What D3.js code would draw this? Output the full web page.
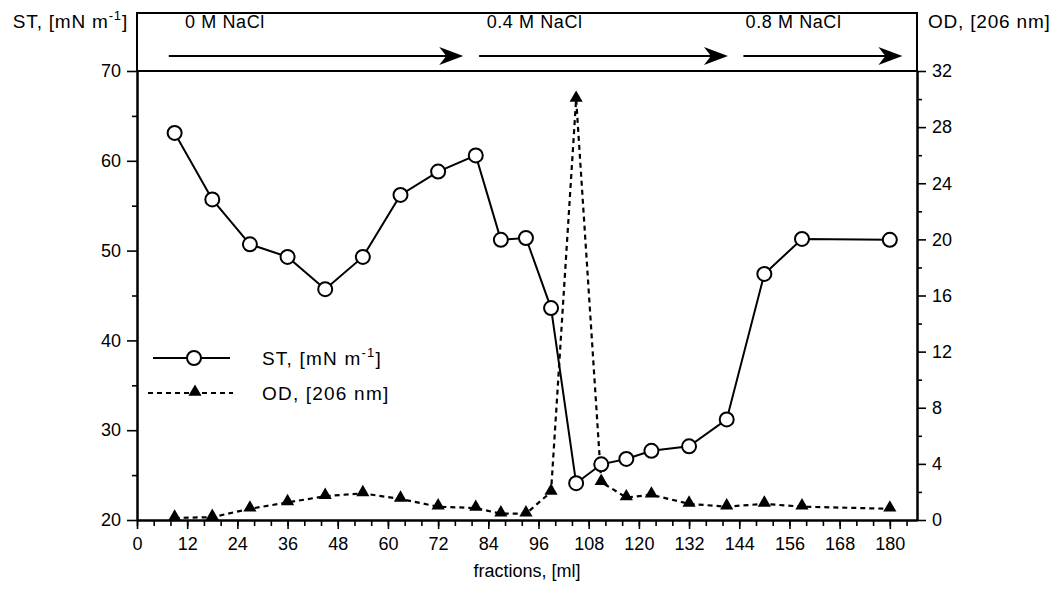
<!DOCTYPE html>
<html><head><meta charset="utf-8">
<script src="https://cdn.jsdelivr.net/npm/d3@7"></script>
<style>
body{margin:0;background:#fff;}
svg text{font-family:"Liberation Sans",Arial,Helvetica,sans-serif;fill:#000;}
</style></head>
<body><svg id="c" width="1055" height="598"></svg>
<script>
const fractions = [9,18,27,36,45,54,63,72,81,87,93,99,105,111,117,123,132,141,150,159,180];
const stValues  = [63.1,55.7,50.7,49.3,45.7,49.3,56.2,58.8,60.6,51.2,51.4,43.6,24.1,26.2,26.8,27.7,28.2,31.2,47.4,51.3,51.2];
const odValues  = [0.15,0.2,0.8,1.25,1.7,1.9,1.5,0.95,0.85,0.45,0.45,2.0,30,2.7,1.6,1.8,1.15,0.95,1.15,0.95,0.8];
const xTickLabels = [0,12,24,36,48,60,72,84,96,108,120,132,144,156,168,180];
const stTickLabels = [20,30,40,50,60,70];
const odTickLabels = [0,4,8,12,16,20,24,28,32];
const saltLabels = ["0 M NaCl","0.4 M NaCl","0.8 M NaCl"];
const saltStart = [7.6, 81.8, 145];
const saltEnd   = [78, 141.3, 183];
const saltLabelX = [11.5, 83.6, 145.5];

const svg = d3.select("#c");
const L=137, R=917, T=71, B=520, HT=13;
const x = d3.scaleLinear().domain([0,186.5]).range([L,R]);
const yL = d3.scaleLinear().domain([20,70]).range([B,T]);
const yR = d3.scaleLinear().domain([0,32]).range([B,T]);
const FS = 18;

// header box
svg.append("rect").attr("x",L).attr("y",HT).attr("width",R-L).attr("height",T-HT)
  .attr("fill","none").attr("stroke","#000").attr("stroke-width",2);
const ay = 56;
saltLabels.forEach((s,i)=>{
  const x0=x(saltStart[i]), x1=x(saltEnd[i]);
  svg.append("line").attr("x1",x0).attr("x2",x1-14).attr("y1",ay).attr("y2",ay)
    .attr("stroke","#000").attr("stroke-width",2);
  svg.append("path").attr("d",`M${x1},${ay} L${x1-24},${ay-9} L${x1-17},${ay} L${x1-24},${ay+9} Z`).attr("fill","#000");
  svg.append("text").attr("x",x(saltLabelX[i])).attr("y",28).attr("font-size",FS).attr("letter-spacing",0.6).text(s);
});

// axes
function styleAxis(g){
  g.selectAll("path.domain").attr("stroke","#000").attr("stroke-width",2);
  g.selectAll("line").attr("stroke","#000").attr("stroke-width",1.6);
  g.selectAll("text").attr("font-size",FS).attr("font-family","Liberation Sans, Arial, sans-serif");
}
// x minor
svg.append("g").attr("transform",`translate(0,${B})`)
  .call(d3.axisBottom(x).tickValues(d3.range(0,187,4)).tickSize(6).tickFormat("").tickSizeOuter(0))
  .call(styleAxis);
svg.append("g").attr("transform",`translate(0,${B})`)
  .call(d3.axisBottom(x).tickValues(xTickLabels).tickSize(9).tickPadding(8).tickSizeOuter(0).tickFormat(d3.format("d")))
  .call(styleAxis);
// left
svg.append("g").attr("transform",`translate(${L},0)`)
  .call(d3.axisLeft(yL).tickValues(d3.range(25,70,10)).tickSize(5).tickFormat("").tickSizeOuter(0)).call(styleAxis);
svg.append("g").attr("transform",`translate(${L},0)`)
  .call(d3.axisLeft(yL).tickValues(stTickLabels).tickSize(10).tickPadding(6).tickSizeOuter(0)).call(styleAxis);
// right
svg.append("g").attr("transform",`translate(${R},0)`)
  .call(d3.axisRight(yR).tickValues(d3.range(2,32,4)).tickSize(5).tickFormat("").tickSizeOuter(0)).call(styleAxis);
svg.append("g").attr("transform",`translate(${R},0)`)
  .call(d3.axisRight(yR).tickValues(odTickLabels).tickSize(9).tickPadding(6).tickSizeOuter(0)).call(styleAxis);

// axis titles
const stT = svg.append("text").attr("x",128).attr("y",28).attr("text-anchor","end").attr("font-size",FS+1).attr("letter-spacing",0.8);
stT.append("tspan").text("ST, [mN m");
stT.append("tspan").attr("dy",-8).attr("font-size",13).text("-1");
stT.append("tspan").attr("dy",8).text("]");
svg.append("text").attr("x",928).attr("y",28).attr("font-size",FS+1).attr("letter-spacing",0.8).text("OD, [206 nm]");
svg.append("text").attr("x",527).attr("y",577).attr("text-anchor","middle").attr("font-size",FS).text("fractions, [ml]");

// data
const data = fractions.map((f,i)=>({f, st:stValues[i], od:odValues[i]}));
const tri = d3.symbol().type(d3.symbolTriangle).size(75);
svg.append("path").datum(data)
  .attr("d",d3.line().x(d=>x(d.f)).y(d=>yR(d.od)))
  .attr("fill","none").attr("stroke","#000").attr("stroke-width",2.2).attr("stroke-dasharray","5,4");
svg.selectAll("path.tri").data(data).enter().append("path").attr("class","tri")
  .attr("d",tri).attr("transform",d=>`translate(${x(d.f)},${yR(d.od)-1})`).attr("fill","#000");
svg.append("path").datum(data)
  .attr("d",d3.line().x(d=>x(d.f)).y(d=>yL(d.st)))
  .attr("fill","none").attr("stroke","#000").attr("stroke-width",2);
svg.selectAll("circle.st").data(data).enter().append("circle").attr("class","st")
  .attr("cx",d=>x(d.f)).attr("cy",d=>yL(d.st)).attr("r",7)
  .attr("fill","#fff").attr("stroke","#000").attr("stroke-width",2);

// legend
const lg = svg.append("g");
lg.append("line").attr("x1",153).attr("x2",230).attr("y1",358).attr("y2",358).attr("stroke","#000").attr("stroke-width",2);
lg.append("circle").attr("cx",194).attr("cy",358).attr("r",7).attr("fill","#fff").attr("stroke","#000").attr("stroke-width",2);
const lt = lg.append("text").attr("x",262).attr("y",365).attr("font-size",FS+1).attr("letter-spacing",1.2);
lt.append("tspan").text("ST, [mN m");
lt.append("tspan").attr("dy",-8).attr("font-size",13).text("-1");
lt.append("tspan").attr("dy",8).text("]");
lg.append("line").attr("x1",148).attr("x2",233).attr("y1",393).attr("y2",393).attr("stroke","#000").attr("stroke-width",2.2).attr("stroke-dasharray","5,4");
lg.append("path").attr("d",tri).attr("transform","translate(195,392)").attr("fill","#000");
lg.append("text").attr("x",262).attr("y",400).attr("font-size",FS+1).attr("letter-spacing",1.2).text("OD, [206 nm]");
</script></body></html>
